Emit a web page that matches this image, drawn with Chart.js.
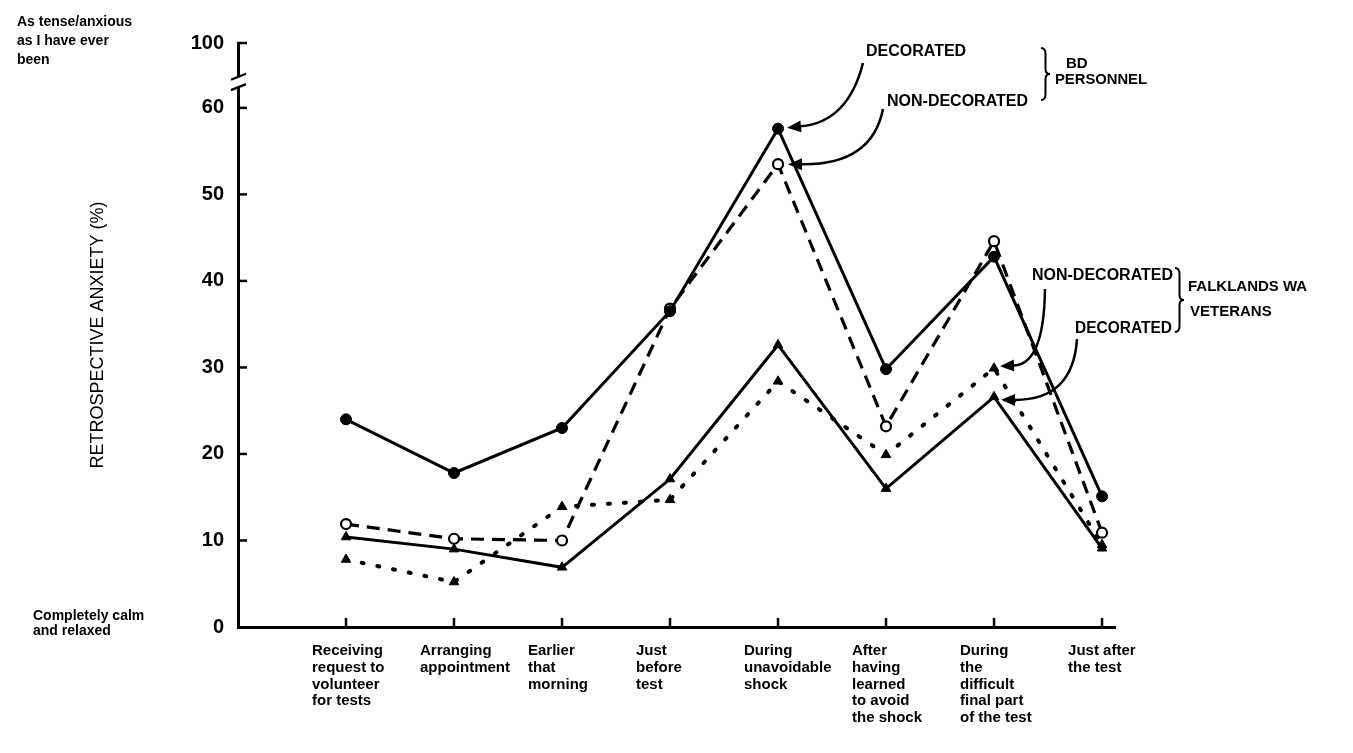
<!DOCTYPE html>
<html>
<head>
<meta charset="utf-8">
<script src="https://cdn.jsdelivr.net/npm/chart.js@4/dist/chart.umd.min.js"></script>
<style>
  html, body { margin: 0; padding: 0; background: #fff; }
  canvas { display: block; }
</style>
</head>
<body>
<canvas id="chart" width="1353" height="753"></canvas>
<script>
// Moments of the test procedure (x axis)
const categories = [
  ['Receiving', 'request to', 'volunteer', 'for tests'],
  ['Arranging', 'appointment'],
  ['Earlier', 'that', 'morning'],
  ['Just', 'before', 'test'],
  ['During', 'unavoidable', 'shock'],
  ['After', 'having', 'learned', 'to avoid', 'the shock'],
  ['During', 'the', 'difficult', 'final part', 'of the test'],
  ['Just after', 'the test']
];

// Retrospective anxiety (%) per group
const bdDecorated    = [24.0, 17.8, 23.0, 36.5, 57.6, 29.8, 42.8, 15.1];
const bdNonDecorated = [11.9, 10.2, 10.0, 36.8, 53.5, 23.2, 44.6, 10.9];
const fwNonDecorated = [7.8, 5.2, 13.9, 14.7, 28.4, 19.9, 29.9, 9.5];
const fwDecorated    = [10.4, 9.0, 6.9, 17.1, 32.6, 16.0, 26.6, 9.1];

// Broken y axis: the top tick stands for 100
const yTickValues = [0, 10, 20, 30, 40, 50, 60, 67.5];
const yTickLabels = ['0', '10', '20', '30', '40', '50', '60', '100'];

const FONT = '"Liberation Sans Narrow", "Liberation Sans", Arial, sans-serif';
const PLAIN = '"Liberation Sans", Arial, sans-serif';

const toPoints = values => values.map((v, i) => ({ x: i + 1, y: v }));

function strokeLine(ctx, x1, y1, x2, y2) {
  ctx.beginPath();
  ctx.moveTo(x1, y1);
  ctx.lineTo(x2, y2);
  ctx.stroke();
}

function curvedArrow(ctx, sx, sy, cx, cy, tx, ty) {
  const ang = Math.atan2(ty - cy, tx - cx);
  const head = 14, half = 6;
  const bx = tx - head * Math.cos(ang), by = ty - head * Math.sin(ang);
  ctx.beginPath();
  ctx.moveTo(sx, sy);
  ctx.quadraticCurveTo(cx, cy, bx, by);
  ctx.stroke();
  ctx.beginPath();
  ctx.moveTo(tx, ty);
  ctx.lineTo(bx + half * Math.sin(ang), by - half * Math.cos(ang));
  ctx.lineTo(bx - half * Math.sin(ang), by + half * Math.cos(ang));
  ctx.closePath();
  ctx.fill();
}

function brace(ctx, x, top, bottom, w) {
  const mid = (top + bottom) / 2, xm = x + w / 2;
  ctx.beginPath();
  ctx.moveTo(x, top);
  ctx.quadraticCurveTo(xm, top, xm, top + 6);
  ctx.lineTo(xm, mid - 5);
  ctx.quadraticCurveTo(xm, mid, x + w, mid);
  ctx.quadraticCurveTo(xm, mid, xm, mid + 5);
  ctx.lineTo(xm, bottom - 6);
  ctx.quadraticCurveTo(xm, bottom, x, bottom);
  ctx.stroke();
}

function text(ctx, str, x, y, font, maxWidth) {
  ctx.font = font;
  ctx.textAlign = 'left';
  ctx.textBaseline = 'middle';
  if (maxWidth) ctx.fillText(str, x, y, maxWidth);
  else ctx.fillText(str, x, y);
}

// Inward tick marks, the axis break and the group labels with arrows
const decorations = {
  id: 'decorations',
  afterDraw(chart) {
    const { ctx, scales: { x, y } } = chart;
    ctx.save();
    ctx.strokeStyle = '#000';
    ctx.fillStyle = '#000';
    ctx.lineWidth = 2.5;

    const axisX = x.left, axisY = y.bottom;
    yTickValues.forEach(v => {
      if (v === 0) return;
      const py = y.getPixelForValue(v);
      strokeLine(ctx, axisX, py, axisX + 9, py);
    });
    categories.forEach((c, i) => {
      const px = x.getPixelForValue(i + 1);
      strokeLine(ctx, px, axisY, px, axisY - 9);
    });

    // axis break between 60 and 100
    const bTop = y.getPixelForValue(63.6), bBot = y.getPixelForValue(62.4);
    ctx.fillStyle = '#fff';
    ctx.fillRect(axisX - 4, bTop, 8, bBot - bTop);
    ctx.fillStyle = '#000';
    ctx.lineWidth = 2.2;
    strokeLine(ctx, axisX - 7, bTop + 3, axisX + 8, bTop - 3);
    strokeLine(ctx, axisX - 7, bBot + 3, axisX + 8, bBot - 3);

    // end-point labels at left
    const small = 'bold 14px ' + FONT;
    text(ctx, 'As tense/anxious', 17, 22, small, 142);
    text(ctx, 'as I have ever', 17, 41, small, 122);
    text(ctx, 'been', 17, 60, small, 40);
    text(ctx, 'Completely calm', 33, 616, small, 122);
    text(ctx, 'and relaxed', 33, 631, small, 88);

    // group labels
    const lab = 'bold 16px ' + FONT;
    const pt = (ds, i) => chart.getDatasetMeta(ds).data[i];
    ctx.lineWidth = 2.5;

    const pBD = pt(0, 4), pBN = pt(1, 4), pFN = pt(2, 6), pFD = pt(3, 6);

    text(ctx, 'DECORATED', 866, 52, lab, 104);
    curvedArrow(ctx, 863, 63, 848, 122, pBD.x + 9, pBD.y - 1);

    text(ctx, 'NON-DECORATED', 887, 102, lab, 150);
    curvedArrow(ctx, 883, 109, 872, 165, pBN.x + 10, pBN.y);

    ctx.lineWidth = 2;
    brace(ctx, 1041, 48, 100, 9);
    text(ctx, 'BD', 1066, 64, 'bold 15px ' + FONT, 24);
    text(ctx, 'PERSONNEL', 1055, 80, 'bold 15px ' + FONT, 92);

    ctx.lineWidth = 2.5;
    text(ctx, 'NON-DECORATED', 1032, 276, lab, 141);
    curvedArrow(ctx, 1045, 289, 1044, 364, pFN.x + 6, pFN.y - 2);

    text(ctx, 'DECORATED', 1075, 329, lab, 97);
    curvedArrow(ctx, 1077, 339, 1073, 400, pFD.x + 7, pFD.y + 3);

    ctx.lineWidth = 2;
    brace(ctx, 1175, 268, 332, 9);
    text(ctx, 'FALKLANDS WA', 1188, 287, 'bold 15px ' + FONT, 131);
    text(ctx, 'VETERANS', 1190, 312, 'bold 15px ' + FONT, 90);

    ctx.restore();
  }
};

const base = {
  borderColor: '#000',
  pointBorderColor: '#000',
  tension: 0,
  fill: false
};

new Chart(document.getElementById('chart'), {
  type: 'line',
  data: {
    datasets: [
      Object.assign({}, base, {
        label: 'BD personnel – decorated',
        data: toPoints(bdDecorated),
        borderWidth: 3,
        pointStyle: 'circle',
        pointRadius: 5.5,
        pointBackgroundColor: '#000',
        pointBorderWidth: 1
      }),
      Object.assign({}, base, {
        label: 'BD personnel – non-decorated',
        data: toPoints(bdNonDecorated),
        borderWidth: 3.2,
        borderDash: [13, 8],
        pointStyle: 'circle',
        pointRadius: 5,
        pointBackgroundColor: '#fff',
        pointBorderWidth: 2.2
      }),
      Object.assign({}, base, {
        label: 'Falklands War veterans – non-decorated',
        data: toPoints(fwNonDecorated),
        borderWidth: 4,
        borderDash: [2, 14],
        borderCapStyle: 'round',
        pointStyle: 'triangle',
        pointRadius: 5.5,
        pointBackgroundColor: '#000',
        pointBorderWidth: 1
      }),
      Object.assign({}, base, {
        label: 'Falklands War veterans – decorated',
        data: toPoints(fwDecorated),
        borderWidth: 3,
        pointStyle: 'triangle',
        pointRadius: 5.5,
        pointBackgroundColor: '#000',
        pointBorderWidth: 1
      })
    ]
  },
  options: {
    responsive: false,
    devicePixelRatio: 1,
    animation: false,
    layout: { padding: { left: 0, right: 238, top: 43, bottom: 0 } },
    plugins: { legend: { display: false }, tooltip: { enabled: false } },
    scales: {
      x: {
        type: 'linear',
        min: 0,
        max: 8.12,
        grid: { display: false, drawTicks: false, tickLength: 0 },
        border: { display: true, color: '#000', width: 3 },
        afterBuildTicks: scale => { scale.ticks = categories.map((c, i) => ({ value: i + 1 })); },
        afterFit: scale => { scale.height = 126; },
        ticks: {
          autoSkip: false,
          maxRotation: 0,
          minRotation: 0,
          align: 'start',
          labelOffset: -34,
          padding: 15,
          color: '#000',
          font: { family: FONT, size: 15, weight: 'bold', lineHeight: 1.13 },
          callback: (value, index) => categories[index]
        }
      },
      y: {
        type: 'linear',
        min: 0,
        max: 67.5,
        grid: { display: false, drawTicks: false, tickLength: 0 },
        border: { display: true, color: '#000', width: 3 },
        afterBuildTicks: scale => { scale.ticks = yTickValues.map(v => ({ value: v })); },
        afterFit: scale => { scale.width = 238; },
        ticks: {
          autoSkip: false,
          padding: 14,
          color: '#000',
          font: { family: PLAIN, size: 20, weight: 'bold' },
          callback: value => yTickLabels[yTickValues.indexOf(value)]
        },
        title: {
          display: true,
          text: 'RETROSPECTIVE ANXIETY (%)',
          color: '#000',
          font: { family: PLAIN, size: 18 },
          padding: { top: 87, bottom: 0 }
        }
      }
    }
  },
  plugins: [decorations]
});
</script>
</body>
</html>
